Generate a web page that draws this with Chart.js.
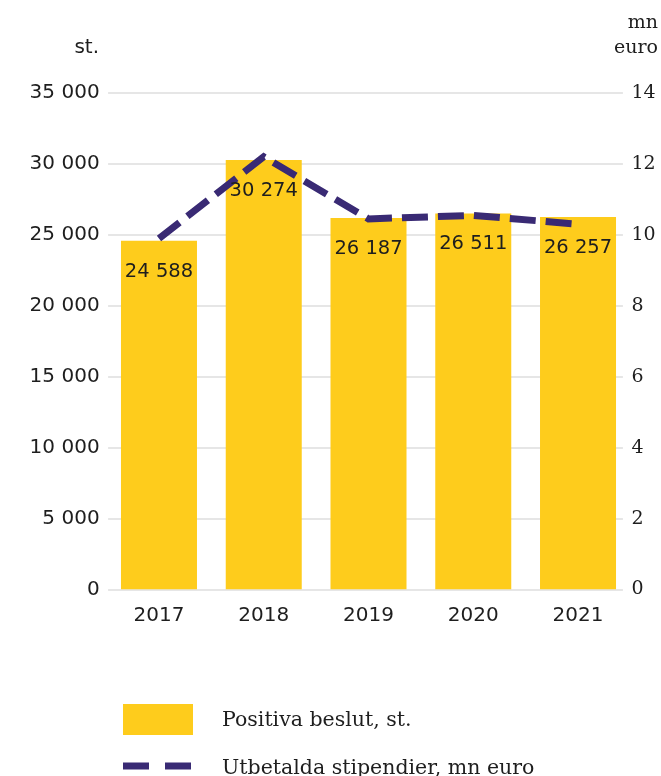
<!DOCTYPE html>
<html>
<head>
<meta charset="utf-8">
<script src="https://cdn.jsdelivr.net/npm/chart.js@4"></script>
<style>
  html, body { margin: 0; padding: 0; background: #fff; }
  #wrap { width: 661px; height: 776px; position: relative; }
</style>
</head>
<body>
<div id="wrap"><canvas id="c" width="661" height="776"></canvas></div>
<script>
// ---- data ----
const years = ['2017', '2018', '2019', '2020', '2021'];
const decisions = [24588, 30274, 26187, 26511, 26257];       // Positiva beslut, st.
const grants = [9.9, 12.2, 10.45, 10.55, 10.3];               // Utbetalda stipendier, mn euro
const leftTicks = [0, 5000, 10000, 15000, 20000, 25000, 30000, 35000];
const rightTicks = [0, 2, 4, 6, 8, 10, 12, 14];
const barLabel = 'Positiva beslut, st.';
const lineLabel = 'Utbetalda stipendier, mn euro';
const leftUnit = 'st.';
const rightUnit = ['mn', 'euro'];

const YELLOW = '#FECC1C';
const NAVY = '#392A74';
const TEXT = '#1E1E1E';
const GRID = '#E6E6E6';
const SANS = '"DejaVu Sans", sans-serif';
const SERIF = '"DejaVu Serif", serif';

const fmt = v => String(Math.round(v)).replace(/\B(?=(\d{3})+(?!\d))/g, ' ');

const extras = {
  id: 'extras',
  beforeDatasetsDraw(chart) {
    const ctx = chart.ctx, y = chart.scales.y, a = chart.chartArea;
    ctx.save();
    ctx.strokeStyle = GRID;
    ctx.lineWidth = 2;
    leftTicks.forEach(v => {
      const py = Math.round(y.getPixelForValue(v));
      ctx.beginPath();
      ctx.moveTo(a.left + 1.5, py);
      ctx.lineTo(a.right - 7.5, py);
      ctx.stroke();
    });
    ctx.restore();
  },
  afterDatasetsDraw(chart) {
    const ctx = chart.ctx;
    ctx.save();
    const meta = chart.getDatasetMeta(0);
    ctx.fillStyle = TEXT;
    ctx.font = '19.5px ' + SANS;
    ctx.textAlign = 'center';
    ctx.textBaseline = 'middle';
    meta.data.forEach((bar, i) => {
      ctx.fillText(fmt(decisions[i]), bar.x, bar.y + 31);
    });
    ctx.restore();
  },
  afterDraw(chart) {
    const ctx = chart.ctx;
    ctx.save();
    ctx.fillStyle = TEXT;
    ctx.font = '20px ' + SANS;
    ctx.textAlign = 'right';
    ctx.textBaseline = 'alphabetic';
    ctx.fillText(leftUnit, 99, 53);
    ctx.font = '19px ' + SERIF;
    ctx.fillText(rightUnit[0], 658, 28);
    ctx.fillText(rightUnit[1], 658, 53);
    // legend
    ctx.fillStyle = YELLOW;
    ctx.fillRect(123, 704, 70, 31);
    ctx.strokeStyle = NAVY;
    ctx.lineWidth = 7;
    ctx.beginPath();
    ctx.moveTo(123, 766); ctx.lineTo(149, 766);
    ctx.moveTo(165, 766); ctx.lineTo(191, 766);
    ctx.stroke();
    ctx.fillStyle = TEXT;
    ctx.font = '20.5px ' + SERIF;
    ctx.textAlign = 'left';
    ctx.fillText(barLabel, 222, 726);
    ctx.fillText(lineLabel, 222, 774);
    ctx.restore();
  }
};

new Chart(document.getElementById('c'), {
  data: {
    labels: years,
    datasets: [
      {
        type: 'bar',
        label: barLabel,
        data: decisions,
        backgroundColor: YELLOW,
        borderWidth: 0,
        barPercentage: 0.7255,
        categoryPercentage: 1,
        yAxisID: 'y',
        order: 2
      },
      {
        type: 'line',
        label: lineLabel,
        data: grants,
        borderColor: NAVY,
        borderWidth: 7,
        borderDash: [26, 10],
        borderCapStyle: 'butt',
        borderJoinStyle: 'miter',
        pointRadius: 0,
        fill: false,
        tension: 0,
        yAxisID: 'y2',
        order: 1
      }
    ]
  },
  options: {
    responsive: false,
    animation: false,
    devicePixelRatio: 1,
    layout: { padding: { top: 93, bottom: 0, left: 0, right: 0 } },
    plugins: {
      legend: { display: false },
      tooltip: { enabled: false }
    },
    scales: {
      x: {
        type: 'category',
        offset: true,
        grid: { display: false, drawTicks: false },
        border: { display: false },
        ticks: { color: TEXT, font: { family: SANS, size: 20 }, padding: 14, maxRotation: 0 },
        afterFit(s) { s.height = 776 - 589.5; }
      },
      y: {
        type: 'linear',
        position: 'left',
        min: 0, max: 35000,
        afterBuildTicks(s) { s.ticks = leftTicks.map(v => ({ value: v })); },
        grid: { display: false, drawTicks: false },
        border: { display: false },
        ticks: { color: TEXT, font: { family: SANS, size: 20 }, padding: 7, callback: v => fmt(v) },
        afterFit(s) { s.width = 106.6; }
      },
      y2: {
        type: 'linear',
        position: 'right',
        min: 0, max: 14,
        afterBuildTicks(s) { s.ticks = rightTicks.map(v => ({ value: v })); },
        grid: { display: false, drawTicks: false },
        border: { display: false },
        ticks: { color: TEXT, font: { family: SERIF, size: 19 }, padding: 1, callback: v => String(v) },
        afterFit(s) { s.width = 30.6; }
      }
    }
  },
  plugins: [extras]
});
</script>
</body>
</html>
